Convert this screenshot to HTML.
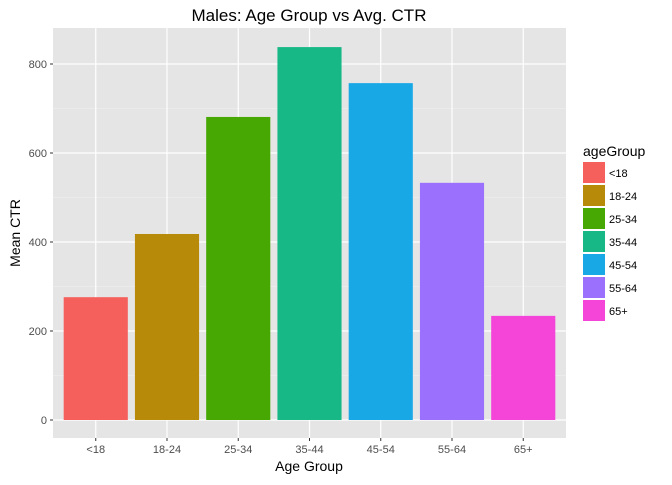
<!DOCTYPE html>
<html><head><meta charset="utf-8"><style>
body{margin:0;background:#fff;font-family:"Liberation Sans",sans-serif}
svg text{font-family:"Liberation Sans",sans-serif}
</style></head><body>
<svg id="chart" width="672" height="480" xmlns="http://www.w3.org/2000/svg">
<text x="309" y="21" text-anchor="middle" font-size="17" fill="#000">Males: Age Group vs Avg. CTR</text>
<text x="309" y="471" text-anchor="middle" font-size="14" fill="#000">Age Group</text>
<text transform="translate(20,233) rotate(-90)" text-anchor="middle" font-size="14" fill="#000">Mean CTR</text>
<g id="panel"></g>
<g id="legend">
<text x="583" y="156" font-size="14" fill="#000">ageGroup</text>
</g>
</svg>
<script>
const categories = ["<18","18-24","25-34","35-44","45-54","55-64","65+"];
const values = [276, 418, 681, 838, 757, 533, 234];
const colors = ["#F5605C","#B88A0A","#47A804","#18B886","#19A8E6","#9B70FD","#F545D8"];
const yTicks = [0,200,400,600,800];
const NS="http://www.w3.org/2000/svg";
const L=53,R=566,T=28,B=438;
const y0=420, pxPer=89/200;
const y=v=>y0-v*pxPer;
const step=(R-L)/(categories.length-1+1.2);
const x=i=>L+step*(0.6+i);
const bw=step*0.9;
function mk(tag,attrs,parent){const e=document.createElementNS(NS,tag);for(const k in attrs)e.setAttribute(k,attrs[k]);parent.appendChild(e);return e;}
const panel=document.getElementById('panel');
const bg=mk('rect',{x:L,y:T,width:R-L,height:B-T,fill:'#E5E5E5'},panel);


for(let i=0;i<yTicks.length-1;i++){
  const yy=y((yTicks[i]+yTicks[i+1])/2);
  mk('line',{x1:L,x2:R,y1:yy,y2:yy,stroke:'#F2F2F2','stroke-width':0.6},panel);
}
yTicks.forEach(t=>{
  const yy=y(t);
  const g=mk('line',{x1:L,x2:R,y1:yy,y2:yy,stroke:'#fff','stroke-width':1.2},panel);
  
  
  mk('line',{x1:L-3,x2:L,y1:yy,y2:yy,stroke:'#333','stroke-width':1},panel);
  const tx=mk('text',{x:L-6,y:yy+4,'text-anchor':'end','font-size':11,fill:'#4D4D4D'},panel);
  tx.textContent=t;
  
  
});
categories.forEach((c,i)=>{
  const xx=x(i);
  mk('line',{x1:xx,x2:xx,y1:T,y2:B,stroke:'#fff','stroke-width':1.2},panel);
  mk('line',{x1:xx,x2:xx,y1:B,y2:B+3,stroke:'#333','stroke-width':1},panel);
  const tx=mk('text',{x:xx,y:B+15,'text-anchor':'middle','font-size':11,fill:'#4D4D4D'},panel);
  tx.textContent=c;
  
  
});
categories.forEach((c,i)=>{
  const b=mk('rect',{x:x(i)-bw/2,y:y(values[i]),width:bw,height:y0-y(values[i]),fill:colors[i]},panel);
  
  
});
const leg=document.getElementById('legend');
categories.forEach((c,i)=>{
  const yy=162+i*23;
  const k=mk('rect',{x:583,y:yy,width:22,height:21,fill:colors[i]},leg);
  
  
  const t=mk('text',{x:609,y:yy+15,'font-size':11,fill:'#000'},leg);
  t.textContent=c;
  
  
});
</script>
</body></html>
